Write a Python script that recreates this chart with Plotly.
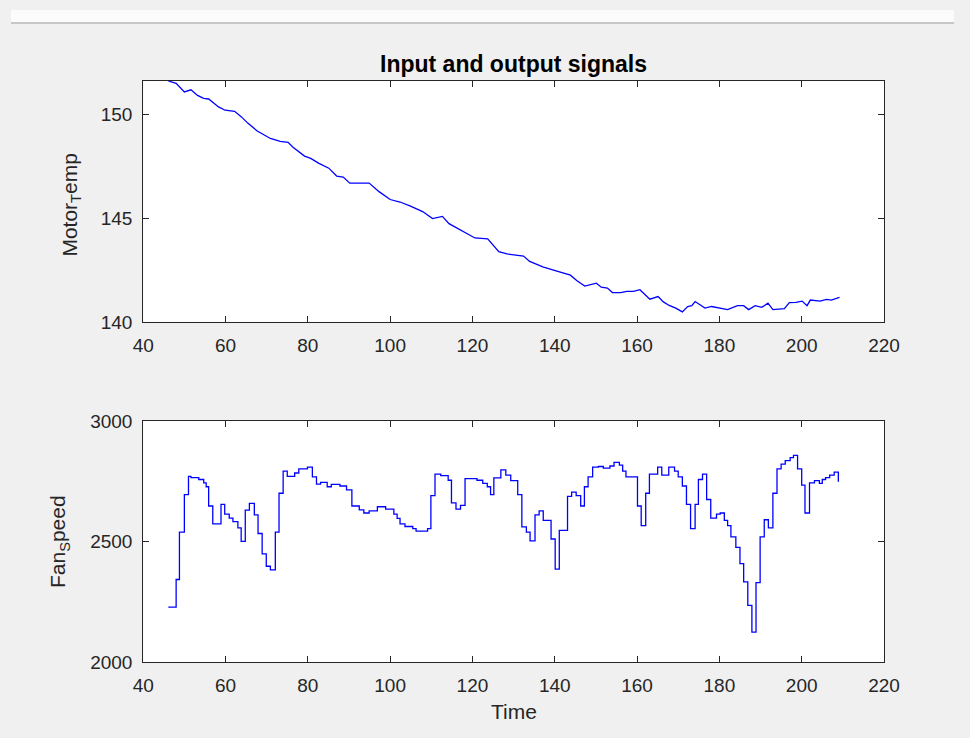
import plotly.graph_objects as go

# ---------------- data ----------------
temp_time = [46.1, 48.0, 50.0, 51.6, 53.2, 54.7, 55.9, 58.3, 59.9, 62.2, 63.8, 65.4, 67.7, 68.9,
             70.9, 73.3, 75.2, 76.4, 79.2, 80.7, 82.7, 85.1, 87.0, 88.6, 90.2, 94.9, 97.3, 100.0,
             102.4, 104.8, 107.9, 110.3, 112.7, 114.3, 117.4, 120.6, 123.7, 126.4, 128.4, 132.4,
             133.9, 137.1, 139.5, 141.8, 143.8, 145.4, 147.3, 150.1, 151.3, 152.8, 154.0, 156.0,
             157.5, 159.1, 160.7, 163.1, 165.1, 166.4, 167.8, 169.4, 171.0, 172.3, 173.3, 174.1,
             175.3, 176.5, 178.1, 180.0, 182.0, 184.4, 185.9, 187.1, 188.7, 190.3, 191.8, 193.0,
             195.8, 197.0, 198.6, 200.1, 201.3, 202.1, 204.5, 206.0, 207.2, 209.2]
motor_temp = [151.6, 151.48, 151.07, 151.17, 150.9, 150.76, 150.73, 150.35, 150.19, 150.14, 149.88,
              149.57, 149.19, 149.06, 148.83, 148.69, 148.64, 148.41, 147.98, 147.87, 147.63, 147.40,
              147.02, 146.97, 146.68, 146.68, 146.27, 145.89, 145.77, 145.58, 145.31, 144.97, 145.08,
              144.73, 144.41, 144.04, 144.0, 143.38, 143.27, 143.17, 142.91, 142.65, 142.50, 142.37,
              142.25, 141.98, 141.72, 141.86, 141.67, 141.63, 141.41, 141.41, 141.47, 141.47, 141.55,
              141.09, 141.22, 140.96, 140.79, 140.66, 140.48, 140.74, 140.78, 140.98, 140.82, 140.66,
              140.74, 140.66, 140.59, 140.78, 140.78, 140.59, 140.78, 140.70, 140.90, 140.59, 140.64,
              140.93, 140.94, 141.0, 140.78, 141.05, 141.0, 141.08, 141.05, 141.18]

fan_time = [46.1, 48.0, 48.8, 50.0, 51.0, 51.6, 53.5, 54.7, 55.3, 55.9, 56.9, 58.9, 59.8, 60.9, 61.8,
            63.0, 63.8, 64.8, 65.8, 67.0, 67.9, 68.9, 69.9, 70.9, 72.1, 73.0, 74.0, 75.0, 76.8, 77.8,
            79.9, 81.1, 82.1, 83.1, 84.7, 85.7, 87.8, 89.4, 90.7, 92.5, 93.6, 94.9, 96.9, 98.9, 100.9,
            101.7, 102.4, 103.6, 105.5, 106.3, 109.1, 109.9, 110.9, 112.3, 114.1, 114.9, 116.0, 117.1,
            118.2, 121.1, 122.5, 123.6, 124.4, 125.2, 126.9, 128.1, 129.3, 131.0, 132.0, 133.1, 134.0,
            135.2, 136.2, 137.2, 139.1, 140.1, 141.1, 143.1, 144.1, 145.2, 146.3, 147.2, 148.1, 149.2,
            150.6, 151.8, 153.4, 154.4, 155.7, 156.5, 157.3, 160.1, 161.0, 162.1, 163.0, 165.0, 166.0,
            167.7, 169.1, 170.0, 171.0, 172.0, 173.0, 174.1, 174.9, 175.9, 176.9, 177.9, 179.3, 180.2,
            181.2, 182.0, 182.8, 184.0, 185.0, 185.9, 186.9, 187.9, 188.9, 189.9, 190.9, 191.9, 193.0,
            194.0, 195.0, 196.0, 197.2, 198.0, 199.0, 200.0, 200.8, 201.9, 203.1, 204.3, 205.0, 205.8,
            206.8, 207.9, 208.9]
fan_speed = [2227, 2342, 2539, 2694, 2770, 2765, 2757, 2743, 2727, 2647, 2573, 2654, 2613, 2597, 2582,
             2556, 2500, 2630, 2658, 2610, 2533, 2448, 2397, 2382, 2539, 2700, 2792, 2770, 2784, 2801,
             2808, 2768, 2738, 2745, 2727, 2737, 2730, 2714, 2647, 2631, 2618, 2627, 2644, 2634, 2613,
             2596, 2573, 2562, 2553, 2543, 2553, 2690, 2779, 2773, 2754, 2660, 2634, 2650,
             2761, 2754, 2741, 2727, 2694, 2764, 2797, 2775, 2752, 2694, 2560, 2539, 2502,
             2610, 2627, 2587, 2510, 2385, 2546, 2687, 2705, 2690, 2647, 2727, 2768, 2808,
             2811, 2804, 2813, 2828, 2817, 2792, 2768, 2647, 2566, 2700, 2779, 2808, 2775,
             2808, 2792, 2768, 2730, 2654, 2553, 2654, 2757, 2779, 2674, 2597, 2613, 2618,
             2587, 2566, 2519, 2475, 2408, 2332, 2235, 2124, 2329, 2519, 2590, 2556, 2700,
             2801, 2821, 2835, 2848, 2857, 2801, 2734, 2618, 2743, 2752, 2741, 2757, 2765,
             2775, 2788, 2748]

x_ticks = [40, 60, 80, 100, 120, 140, 160, 180, 200, 220]
temp_ticks = [140, 145, 150]
fan_ticks = [2000, 2500, 3000]

title_text = "Input and output signals"
temp_label = "Motor<sub>T</sub>emp"
fan_label = "Fan<sub>S</sub>peed"
x_label = "Time"

# ---------------- layout ----------------
W, H = 970, 738
FONT = "Liberation Sans, Arial, sans-serif"
AX = "#262626"
LINE = "#0000ff"

def px_x(p):
    return p / W

def px_y(p):
    return 1 - p / H

fig = go.Figure()
fig.add_trace(go.Scatter(x=temp_time, y=motor_temp, mode="lines",
                         line=dict(color=LINE, width=1.3), xaxis="x", yaxis="y",
                         showlegend=False))
fig.add_trace(go.Scatter(x=fan_time, y=fan_speed, mode="lines",
                         line=dict(color=LINE, width=1.3, shape="hv"), xaxis="x2", yaxis="y2",
                         showlegend=False))

common_x = dict(range=[40, 220], tickvals=x_ticks, ticks="inside", ticklen=6, tickcolor=AX,
                showline=True, linecolor=AX, linewidth=1, mirror="ticks", showgrid=False,
                zeroline=False, tickfont=dict(family=FONT, size=19, color="#262626"),
                domain=[px_x(136), px_x(898)], ticklabelstandoff=6)
common_y = dict(ticks="inside", ticklen=6, tickcolor=AX, showline=True, linecolor=AX, linewidth=1,
                mirror="ticks", showgrid=False, zeroline=False,
                tickfont=dict(family=FONT, size=19, color="#262626"), ticklabelstandoff=6)

fig.update_layout(
    width=W, height=H, margin=dict(l=0, r=0, t=0, b=0),
    paper_bgcolor="#f0f0f0", plot_bgcolor="#ffffff",
    xaxis=dict(**common_x, anchor="y"),
    yaxis=dict(**common_y, range=[140, 151.6], tickvals=temp_ticks, anchor="x",
               domain=[px_y(321), px_y(73)]),
    xaxis2=dict(**common_x, anchor="y2"),
    yaxis2=dict(**common_y, range=[2000, 3000], tickvals=fan_ticks, anchor="x2",
                domain=[px_y(671), px_y(423)]),
    showlegend=False,
)

# header strip at the very top
fig.add_shape(type="rect", xref="paper", yref="paper", x0=0, x1=1, y0=px_y(13), y1=1,
              fillcolor="#fbfbfb", line=dict(width=0), layer="below")
fig.add_shape(type="line", xref="paper", yref="paper", x0=0, x1=1, y0=px_y(13.5), y1=px_y(13.5),
              line=dict(color="#b8b8b8", width=1.5))

fig.add_annotation(text="<b>" + title_text + "</b>", xref="paper", yref="paper",
                   x=px_x(517), y=px_y(56), xanchor="center", yanchor="middle", showarrow=False,
                   font=dict(family=FONT, size=23, color="#000000"))
fig.add_annotation(text=temp_label, xref="paper", yref="paper", x=px_x(62), y=px_y(200),
                   xanchor="center", yanchor="middle", textangle=-90, showarrow=False,
                   font=dict(family=FONT, size=21, color="#262626"))
fig.add_annotation(text=fan_label, xref="paper", yref="paper", x=px_x(50), y=px_y(547),
                   xanchor="center", yanchor="middle", textangle=-90, showarrow=False,
                   font=dict(family=FONT, size=21, color="#262626"))
fig.add_annotation(text=x_label, xref="paper", yref="paper", x=px_x(517), y=px_y(722),
                   xanchor="center", yanchor="middle", showarrow=False,
                   font=dict(family=FONT, size=21, color="#262626"))

fig.write_html("out.html")
